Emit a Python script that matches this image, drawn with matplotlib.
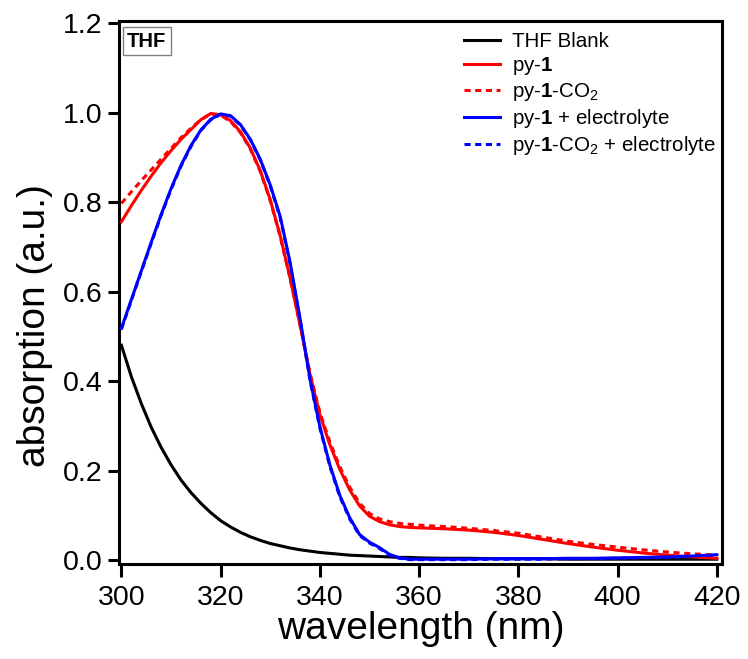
import matplotlib
matplotlib.use("Agg")
import matplotlib.pyplot as plt

plt.rcParams['font.family'] = ['Liberation Sans', 'DejaVu Sans']
plt.rcParams['mathtext.fontset'] = 'custom'
plt.rcParams['mathtext.rm'] = 'Liberation Sans'
plt.rcParams['mathtext.bf'] = 'Liberation Sans:bold'
plt.rcParams['mathtext.it'] = 'Liberation Sans:italic'

# wavelength grid (nm)
wavelength = [300, 302, 304, 306, 308, 310, 312, 314, 316, 318, 320, 322, 324, 326, 328,
              330, 332, 334, 336, 338, 340, 342, 344, 346, 348, 350, 352, 354, 356, 358,
              360, 365, 370, 375, 380, 385, 390, 395, 400, 405, 410, 415, 420]

thf_blank = [0.480, 0.410, 0.350, 0.297, 0.252, 0.213, 0.179, 0.151, 0.127, 0.106, 0.088,
             0.074, 0.062, 0.052, 0.044, 0.037, 0.032, 0.027, 0.023, 0.020, 0.017, 0.015,
             0.013, 0.011, 0.010, 0.009, 0.008, 0.007, 0.006, 0.006, 0.005, 0.004, 0.004,
             0.003, 0.003, 0.003, 0.002, 0.002, 0.002, 0.002, 0.002, 0.002, 0.002]

py1 = [0.756, 0.792, 0.826, 0.858, 0.888, 0.915, 0.940, 0.962, 0.984, 0.998, 0.995,
       0.982, 0.957, 0.920, 0.870, 0.805, 0.725, 0.630, 0.525, 0.415, 0.325, 0.258,
       0.203, 0.157, 0.121, 0.098, 0.086, 0.079, 0.075, 0.073, 0.072, 0.070, 0.067,
       0.062, 0.055, 0.046, 0.037, 0.029, 0.022, 0.016, 0.011, 0.007, 0.004]

py1_co2 = [0.797, 0.823, 0.848, 0.872, 0.896, 0.920, 0.944, 0.965, 0.984, 0.997, 0.994,
           0.980, 0.955, 0.918, 0.868, 0.803, 0.723, 0.629, 0.526, 0.418, 0.330, 0.264,
           0.209, 0.163, 0.127, 0.104, 0.092, 0.086, 0.082, 0.080, 0.078, 0.075, 0.071,
           0.066, 0.060, 0.051, 0.042, 0.035, 0.029, 0.023, 0.018, 0.014, 0.011]

py1_elec = [0.518, 0.582, 0.646, 0.710, 0.772, 0.830, 0.882, 0.926, 0.961, 0.985, 0.997,
            0.993, 0.973, 0.940, 0.895, 0.838, 0.768, 0.665, 0.540, 0.405, 0.298, 0.213,
            0.145, 0.095, 0.057, 0.040, 0.028, 0.013, 0.005, 0.002, 0.002, 0.002, 0.002,
            0.003, 0.003, 0.003, 0.004, 0.004, 0.005, 0.006, 0.007, 0.009, 0.012]

py1_co2_elec = [0.516, 0.580, 0.644, 0.708, 0.770, 0.828, 0.880, 0.924, 0.960, 0.984, 0.996,
                0.992, 0.972, 0.939, 0.894, 0.836, 0.765, 0.662, 0.537, 0.402, 0.295, 0.210,
                0.142, 0.092, 0.055, 0.038, 0.026, 0.011, 0.004, 0.001, 0.001, 0.001, 0.001,
                0.002, 0.002, 0.002, 0.003, 0.003, 0.004, 0.005, 0.006, 0.008, 0.011]

labels = ["THF Blank", r"py-$\mathbf{1}$", r"py-$\mathbf{1}$-CO$_2$",
          r"py-$\mathbf{1}$ + electrolyte", r"py-$\mathbf{1}$-CO$_2$ + electrolyte"]
xticks = [300, 320, 340, 360, 380, 400, 420]
yticks = [0.0, 0.2, 0.4, 0.6, 0.8, 1.0, 1.2]

fig = plt.figure(figsize=(7.48, 6.59), dpi=100)
ax = fig.add_axes([0.159, 0.144, 0.806, 0.824])

lw = 2.2
dash = (0, (2.0, 1.5))
ax.plot(wavelength, thf_blank, color='black', lw=lw, label=labels[0])
ax.plot(wavelength, py1_co2, color='#ff0000', lw=lw, ls=dash, label=labels[2], zorder=2)
ax.plot(wavelength, py1, color='#ff0000', lw=lw, label=labels[1], zorder=3)
ax.plot(wavelength, py1_co2_elec, color='#0000ff', lw=lw, ls=dash, label=labels[4], zorder=2)
ax.plot(wavelength, py1_elec, color='#0000ff', lw=lw, label=labels[3], zorder=3)

ax.set_xlim(299.5, 421)
ax.set_ylim(-0.009, 1.2045)
ax.set_xticks(xticks)
ax.set_yticks(yticks)
ax.set_yticklabels([f"{v:.1f}" for v in yticks])

for s in ax.spines.values():
    s.set_linewidth(2.2)
ax.tick_params(axis='both', which='major', direction='out', width=2.2, labelsize=20.5,
               top=False, right=False)
ax.tick_params(axis='x', length=9, pad=6)
ax.tick_params(axis='y', length=8, pad=4)

ax.set_xlabel("wavelength (nm)", fontsize=28, labelpad=0)
ax.set_ylabel("absorption (a.u.)", fontsize=28, labelpad=4)
ax.yaxis.set_label_coords(-0.110, 0.44)

ax.text(0.046, 0.963, "THF", transform=ax.transAxes, ha='center', va='center',
        fontsize=14.5, fontweight='bold',
        bbox=dict(boxstyle='square,pad=0.22', fc='white', ec='#808080', lw=1.0))

handles, labs = ax.get_legend_handles_labels()
order = [labs.index(l) for l in labels]
leg = ax.legend([handles[i] for i in order], [labs[i] for i in order],
                loc='upper left', bbox_to_anchor=(0.565, 0.987), frameon=False,
                fontsize=14.8, handlelength=1.75, handletextpad=0.6, labelspacing=0.19,
                borderaxespad=0.0, borderpad=0.2)

fig.savefig("out.png", dpi=100)
